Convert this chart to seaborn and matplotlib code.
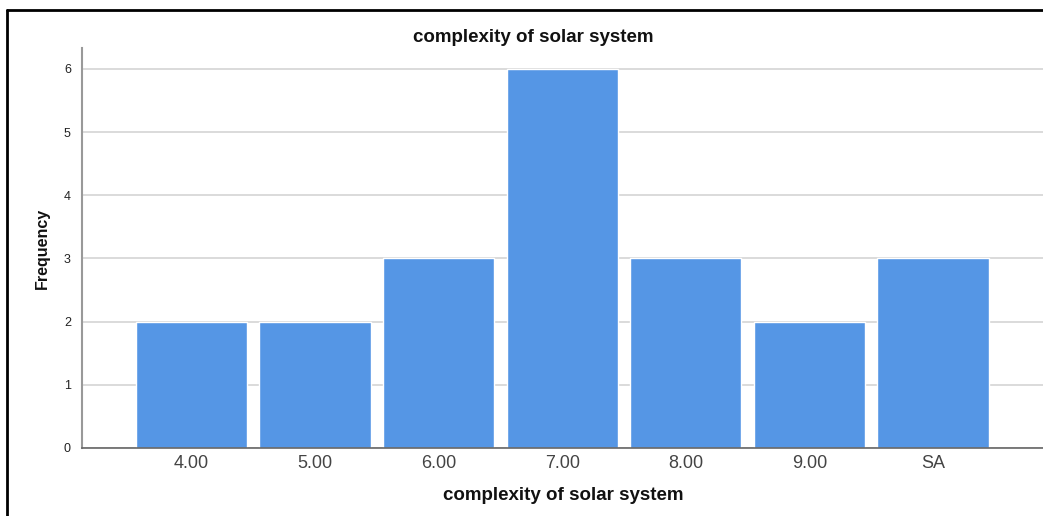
import numpy as np
import pandas as pd
import seaborn as sns
import matplotlib.pyplot as plt

categories = ['4.00', '5.00', '6.00', '7.00', '8.00', '9.00', 'SA']
frequency = [2, 2, 3, 6, 3, 2, 3]

df = pd.DataFrame({'score': categories, 'Frequency': frequency})

sns.set_style('white')
plt.rcParams['font.family'] = ['Liberation Sans', 'DejaVu Sans']

fig = plt.figure(figsize=(10.43, 5.16), dpi=100)
ax = fig.add_axes([82 / 1043, 1 - 448 / 516, 1 - 82 / 1043, (448 - 48) / 516])

sns.barplot(data=df, x='score', y='Frequency', color='#5596E5', saturation=1,
            width=0.9, ax=ax, zorder=2)

ax.set_xlim(-0.886, 6.89)
ax.set_ylim(0, 6.33)
ax.set_yticks(range(7))
ax.yaxis.grid(True, color='#d4d4d4', linewidth=1.2, zorder=0)
ax.set_axisbelow(True)
ax.tick_params(axis='both', length=0)
ax.tick_params(axis='y', labelsize=9, colors='#222222', pad=8)
ax.tick_params(axis='x', labelsize=13, colors='#444444', pad=5)

for s in ['top', 'right']:
    ax.spines[s].set_visible(False)
ax.spines['left'].set_color('#999999')
ax.spines['left'].set_linewidth(1.5)
ax.spines['bottom'].set_color('#666666')
ax.spines['bottom'].set_linewidth(1.2)

ax.set_xlabel('')
ax.set_ylabel('')
fig.text(533 / 1043, 1 - 37 / 516, 'complexity of solar system', ha='center', va='center',
         fontsize=13.5, fontweight='bold', color='#111111')
fig.text(563 / 1043, 1 - 496 / 516, 'complexity of solar system', ha='center', va='center',
         fontsize=13.5, fontweight='bold', color='#111111')
fig.text(42 / 1043, 1 - 248 / 516, 'Frequency', ha='center', va='center', rotation=90,
         fontsize=11.5, fontweight='bold', color='#111111')

# border of the screenshot
fig.add_artist(plt.Line2D([7 / 1043, 7 / 1043], [0, 1 - 10 / 516], color='black', linewidth=2,
                          transform=fig.transFigure))
fig.add_artist(plt.Line2D([7 / 1043, 1], [1 - 10 / 516, 1 - 10 / 516], color='black', linewidth=2,
                          transform=fig.transFigure))

fig.savefig('out.png', dpi=100)
